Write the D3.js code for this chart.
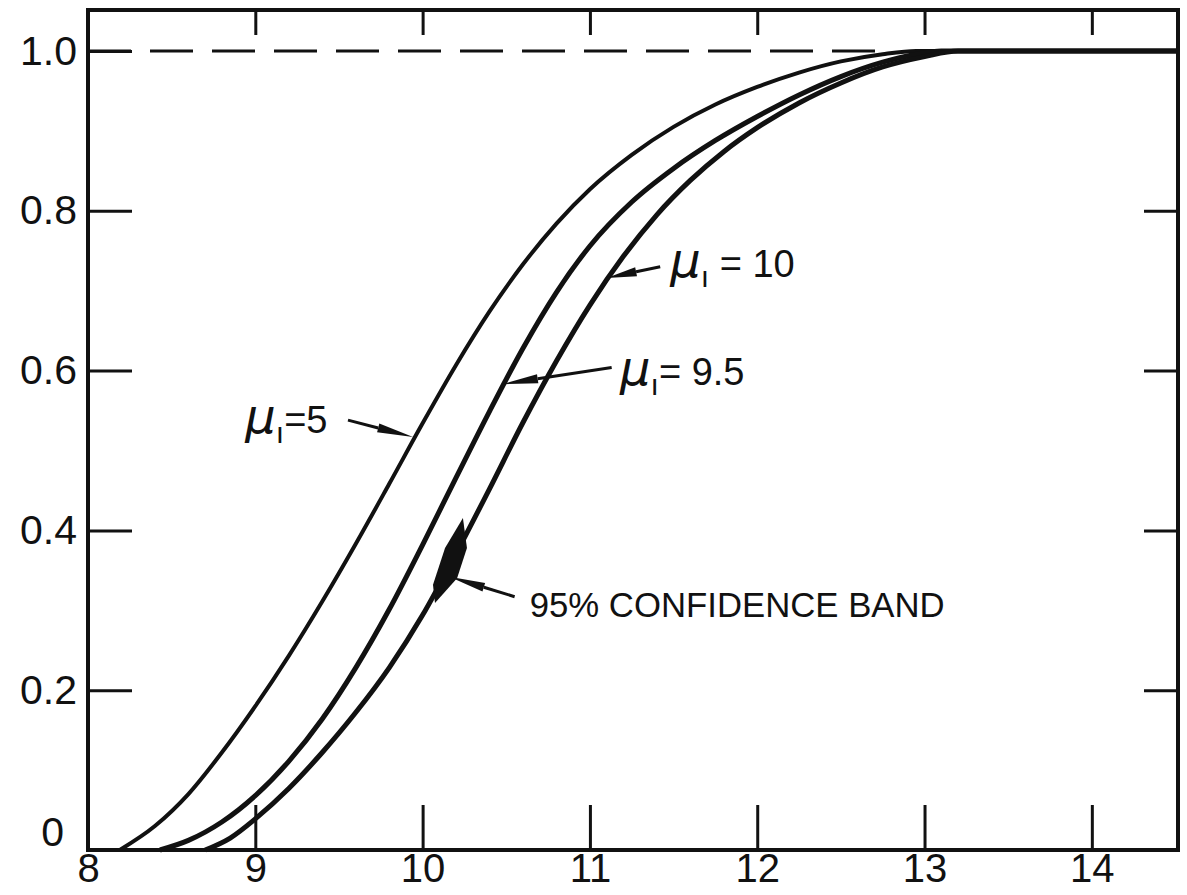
<!DOCTYPE html>
<html>
<head>
<meta charset="utf-8">
<script src="https://cdn.jsdelivr.net/npm/d3@7"></script>
<style>
  html, body { margin: 0; padding: 0; background: #fff; }
  svg { display: block; }
  .tick text { font-family: "Liberation Sans Narrow", "Liberation Sans", sans-serif; fill: #111; }
  .tick line { stroke: #111; stroke-width: 3; }
  .label { font-family: "Liberation Sans", Arial, sans-serif; fill: #111; }
</style>
</head>
<body>
<svg id="chart" width="1187" height="895"></svg>
<script>
// curves: [x, cumulative probability]
const curveMu5 = [
  [8.19, 0], [8.4, 0.03], [8.6, 0.07], [8.8, 0.122], [9.0, 0.18], [9.2, 0.243],
  [9.4, 0.311], [9.6, 0.383], [9.8, 0.458], [10.0, 0.534], [10.2, 0.607],
  [10.4, 0.674], [10.6, 0.733], [10.8, 0.784], [11.0, 0.827], [11.25, 0.87],
  [11.5, 0.905], [11.75, 0.933], [12.0, 0.955], [12.25, 0.973], [12.5, 0.987],
  [12.75, 0.996], [12.95, 1.0], [14.515, 1.0]
];
const curveMu95 = [
  [8.43, 0], [8.6, 0.012], [8.8, 0.035], [9.0, 0.068], [9.2, 0.111], [9.4, 0.164],
  [9.6, 0.228], [9.8, 0.301], [10.0, 0.382], [10.2, 0.466], [10.4, 0.549],
  [10.6, 0.628], [10.8, 0.698], [11.0, 0.756], [11.25, 0.811], [11.5, 0.853],
  [11.75, 0.888], [12.0, 0.918], [12.25, 0.945], [12.5, 0.968], [12.75, 0.986],
  [12.95, 0.996], [13.1, 1.0], [14.515, 1.0]
];
const curveMu10 = [
  [8.7, 0], [8.85, 0.015], [9.0, 0.039], [9.2, 0.077], [9.4, 0.122], [9.6, 0.172],
  [9.8, 0.228], [10.0, 0.294], [10.2, 0.371], [10.4, 0.452], [10.6, 0.535],
  [10.8, 0.612], [11.0, 0.682], [11.2, 0.743], [11.4, 0.795], [11.6, 0.838],
  [11.8, 0.874], [12.0, 0.904], [12.25, 0.935], [12.5, 0.96], [12.75, 0.98],
  [13.0, 0.993], [13.2, 1.0], [14.515, 1.0]
];

const xTicks = [8, 9, 10, 11, 12, 13, 14];
const yTicks = [0, 0.2, 0.4, 0.6, 0.8, 1.0];
const yTickLabels = ['0', '0.2', '0.4', '0.6', '0.8', '1.0'];

// annotations: label text, label anchor, arrow start, arrow tip
const notes = [
  { name: '5', eq: '=', at: [8.94, 0.522], from: [9.554, 0.538], to: [9.943, 0.517] },
  { name: '9.5', eq: '= ', at: [11.18, 0.582], from: [11.13, 0.604], to: [10.475, 0.583] },
  { name: '10', eq: ' = ', at: [11.48, 0.717], from: [11.42, 0.73], to: [11.10, 0.716] }
];
const bandLabel = { text: '95% CONFIDENCE BAND', at: [10.64, 0.292], from: [10.55, 0.317], to: [10.16, 0.342] };
const bandMark = [
  [10.241, 0.4155], [10.265, 0.378], [10.206, 0.340],
  [10.074, 0.309], [10.062, 0.332], [10.134, 0.378]
];

const svg = d3.select('#chart');
const margin = { left: 88, right: 1178, top: 10, bottom: 850 };

const x = d3.scaleLinear().domain([8, 14.515]).range([margin.left, margin.right]);
const y = d3.scaleLinear().domain([0, 1.0513]).range([margin.bottom, margin.top]);

// dashed line at 1.0
svg.append('line')
  .attr('x1', x(8)).attr('x2', x(12.75))
  .attr('y1', y(1)).attr('y2', y(1))
  .attr('stroke', '#111').attr('stroke-width', 3)
  .attr('stroke-dasharray', '43,19');

// axes with inward ticks
const yAxis = svg.append('g')
  .attr('transform', `translate(${margin.left},0)`)
  .call(d3.axisLeft(y).tickValues(yTicks).tickSize(-44).tickPadding(11)
    .tickFormat((d, i) => yTickLabels[i]));
yAxis.selectAll('.tick text').attr('font-size', 41);
yAxis.selectAll('.tick').filter(d => d === 0).select('line').remove();
yAxis.selectAll('.tick').filter(d => d === 0).select('text')
  .attr('x', -24).attr('dy', '-0.1em');

svg.append('g')
  .attr('transform', `translate(${margin.right},0)`)
  .call(d3.axisRight(y).tickValues([0.2, 0.4, 0.6, 0.8]).tickSize(-34).tickFormat(''));

svg.append('g')
  .attr('transform', `translate(0,${margin.top})`)
  .call(d3.axisTop(x).tickValues(xTicks.slice(1)).tickSize(-25).tickFormat(''));

const xAxis = svg.append('g')
  .attr('transform', `translate(0,${margin.bottom})`)
  .call(d3.axisBottom(x).tickValues(xTicks).tickSize(-45).tickPadding(4).tickFormat(d3.format('d')));
xAxis.selectAll('.tick text').attr('font-size', 40);
xAxis.selectAll('.tick').filter(d => d === 8).select('line').remove();
svg.selectAll('.domain').remove();

// curves
const line = d3.line().x(d => x(d[0])).y(d => y(d[1])).curve(d3.curveMonotoneX);
[[curveMu5, 4], [curveMu95, 5], [curveMu10, 5]].forEach(([data, w]) => {
  svg.append('path')
    .attr('d', line(data))
    .attr('fill', 'none')
    .attr('stroke', '#111')
    .attr('stroke-width', w)
    .attr('stroke-linejoin', 'round');
});

// frame
svg.append('rect')
  .attr('x', margin.left).attr('y', margin.top)
  .attr('width', margin.right - margin.left).attr('height', margin.bottom - margin.top)
  .attr('fill', 'none').attr('stroke', '#111').attr('stroke-width', 4);

// arrow = thin line + long filled head
function arrow(from, to) {
  const x0 = x(from[0]), y0 = y(from[1]), x1 = x(to[0]), y1 = y(to[1]);
  const len = Math.hypot(x1 - x0, y1 - y0);
  const ux = (x1 - x0) / len, uy = (y1 - y0) / len;
  const head = Math.min(36, len * 0.55), hw = 4.5;
  const bx = x1 - ux * head, by = y1 - uy * head;
  svg.append('line')
    .attr('x1', x0).attr('y1', y0).attr('x2', bx).attr('y2', by)
    .attr('stroke', '#111').attr('stroke-width', 3);
  svg.append('path')
    .attr('d', `M${x1},${y1}L${bx - uy * hw},${by + ux * hw}L${bx + uy * hw},${by - ux * hw}Z`)
    .attr('fill', '#111');
}

notes.forEach(n => {
  arrow(n.from, n.to);
  const t = svg.append('text')
    .attr('class', 'label')
    .attr('x', x(n.at[0])).attr('y', y(n.at[1]));
  t.append('tspan').attr('font-size', 48).attr('font-style', 'italic')
    .attr('font-family', '"DejaVu Sans", sans-serif').text('\u03bc');
  t.append('tspan').attr('font-size', 30).attr('dy', 10).text('\u0131');
  t.append('tspan').attr('font-size', 38).attr('dy', -10).text(n.eq + n.name);
});

arrow(bandLabel.from, bandLabel.to);
svg.append('text')
  .attr('class', 'label')
  .attr('x', x(bandLabel.at[0])).attr('y', y(bandLabel.at[1]))
  .attr('font-size', 35)
  .attr('textLength', 415).attr('lengthAdjust', 'spacingAndGlyphs')
  .text(bandLabel.text);

svg.append('path')
  .attr('d', 'M' + bandMark.map(d => [x(d[0]), y(d[1])].join(',')).join('L') + 'Z')
  .attr('fill', '#111');
</script>
</body>
</html>
